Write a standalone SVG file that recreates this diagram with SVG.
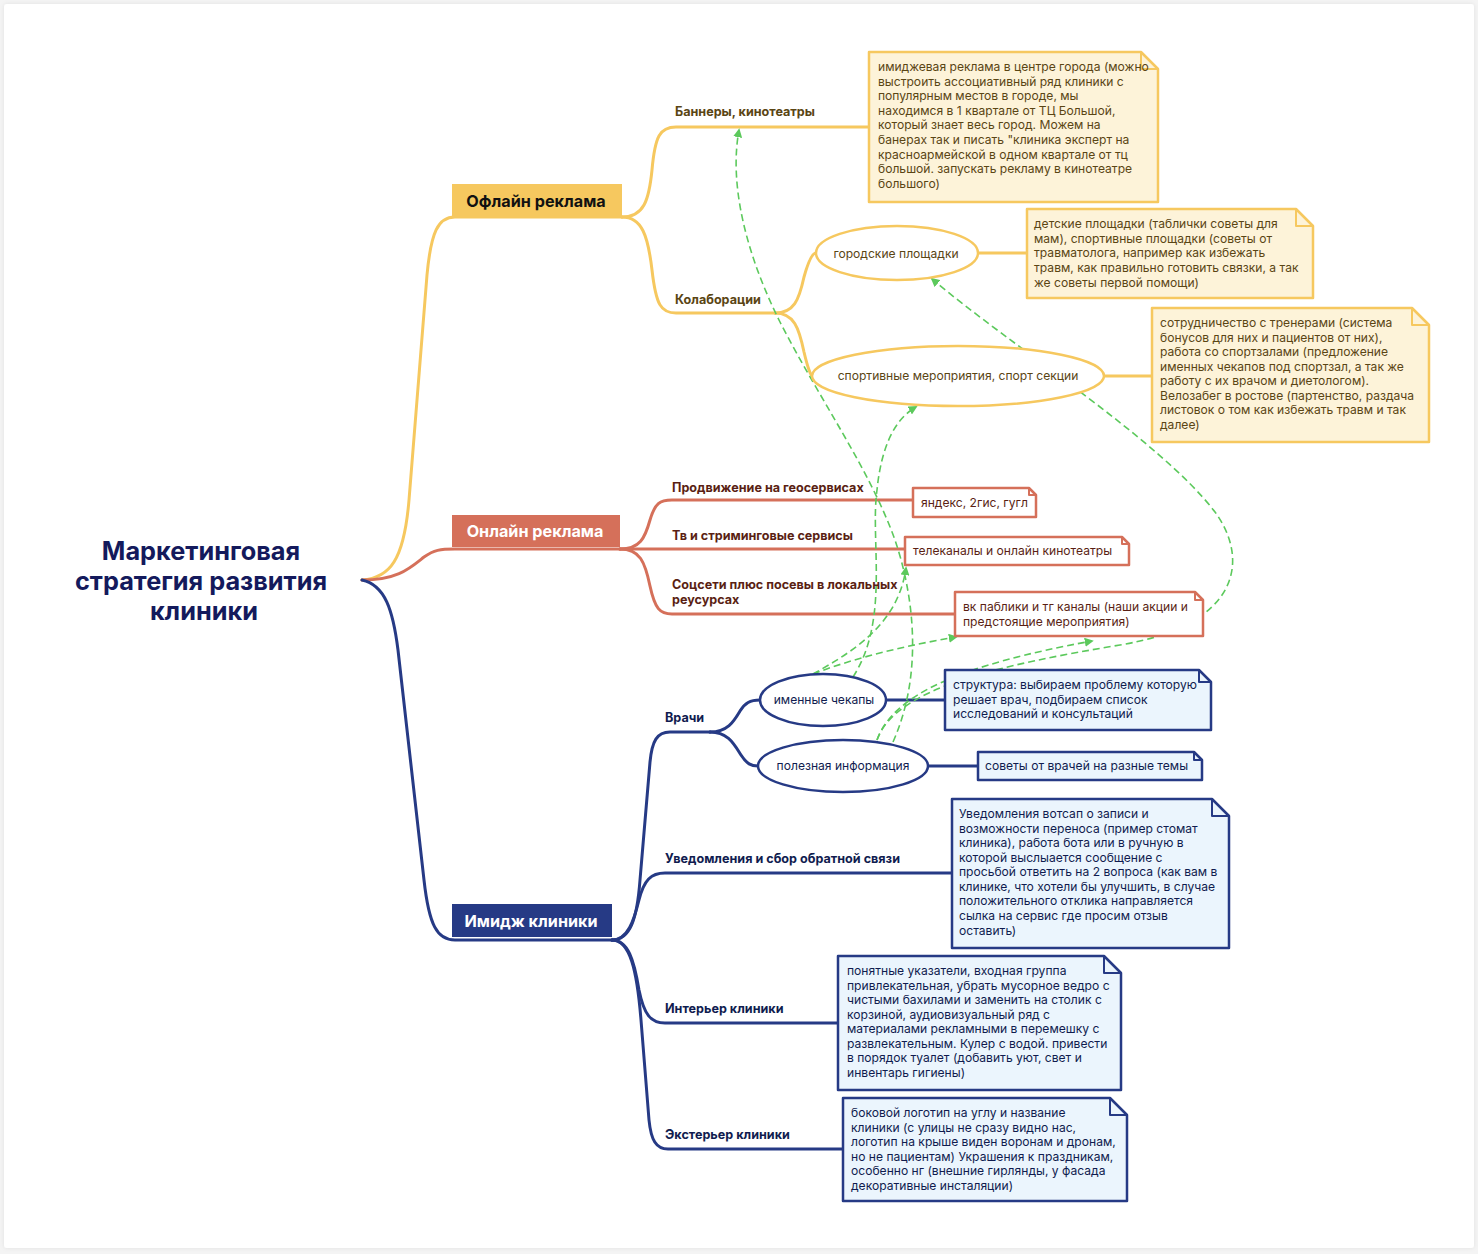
<svg xmlns="http://www.w3.org/2000/svg" width="1478" height="1254" viewBox="0 0 1478 1254">
<defs>
<style>
text{font-family:Inter,"Noto Sans","Liberation Sans",sans-serif}
.title{font-size:25.3px;font-weight:700;fill:#141a5c;text-anchor:middle}
.br{font-size:16.2px;font-weight:700;text-anchor:middle}
.lbl{font-size:12.6px;font-weight:700}
.nt{font-size:12.1px}
.ye{stroke:#f6c85f;fill:none;stroke-width:3;stroke-linecap:round}
.re{stroke:#d5705a;fill:none;stroke-width:3;stroke-linecap:round}
.bl{stroke:#263a85;fill:none;stroke-width:3;stroke-linecap:round}
.yt{fill:#5a4514}
.rt{fill:#5a1f14}
.bt{fill:#101c4f}
.ynote{fill:#fdf3d9;stroke:#f6c85f;stroke-width:2.5;stroke-linejoin:round}
.rnote{fill:#ffffff;stroke:#d5705a;stroke-width:2.5;stroke-linejoin:round}
.bnote{fill:#ebf5fd;stroke:#263a85;stroke-width:2.5;stroke-linejoin:round}
.fold{fill:none;stroke-width:2;stroke-linejoin:round}
.ell{fill:#ffffff;stroke-width:2.5}
.dash{stroke:#5cc95c;stroke-width:1.6;fill:none;stroke-dasharray:7 4;marker-end:url(#ah)}
</style>
<marker id="ah" viewBox="0 0 10 10" refX="8" refY="5" markerWidth="9" markerHeight="9" markerUnits="userSpaceOnUse" orient="auto">
<path d="M0,0 L10,5 L0,10 Z" fill="#5cc95c"/>
</marker>
<filter id="sh" x="-5%" y="-5%" width="110%" height="110%">
<feDropShadow dx="0" dy="0" stdDeviation="2" flood-color="#000" flood-opacity="0.08"/>
</filter>
</defs>
<rect x="0" y="0" width="1478" height="1254" fill="#f4f4f4"/>
<rect x="4" y="4" width="1470" height="1244" rx="3" fill="#ffffff" filter="url(#sh)"/>

<g id="connectors">
<path class="ye" d="M362,580 C390,578 404,560 409,500 L427,275 C431,232 438,217 455,217 L622,217"/>
<path class="re" d="M362,580 C398,580 410,568 424,557 C434,550 440,549 455,549 L620,549"/>
<path class="bl" d="M362,580 C385,585 393,610 398,650 L424,880 C429,925 437,940 455,940 L612,940"/>
<path class="ye" d="M622,217 C644,217 649,200 652,170 C655,136 660,127 676,127 L870,127"/>
<path class="ye" d="M622,217 C642,217 648,236 652,270 C656,305 661,313 676,313 L775,313"/>
<path class="ye" d="M775,313 C794,313 799,300 804,277 C809,259 813,253 816,253"/>
<path class="ye" d="M775,313 C794,313 799,328 804,352 C808,369 811,376 812,376"/>
<path class="ye" d="M979,253 L1027,253"/>
<path class="ye" d="M1104,376 L1152,376"/>
<path class="re" d="M620,549 C640,549 645,538 650,520 C655,503 660,500 672,500 L914,500"/>
<path class="re" d="M620,549 L906,549"/>
<path class="re" d="M620,549 C640,549 645,562 650,586 C655,609 660,614 672,614 L955,614"/>
<path class="bl" d="M612,940 C630,940 637,920 640,880 L650,762 C652,741 657,732 670,732 L710,732"/>
<path class="bl" d="M710,732 C728,732 734,721 740,711 C745,703 750,700 760,700"/>
<path class="bl" d="M710,732 C728,732 734,744 741,755 C747,764 751,766 758,766"/>
<path class="bl" d="M886,700 L945,700"/>
<path class="bl" d="M928,766 L978,766"/>
<path class="bl" d="M612,940 C628,940 634,920 639,900 C644,880 651,873 665,873 L952,873"/>
<path class="bl" d="M612,940 C628,940 634,960 639,990 C644,1015 651,1023 665,1023 L838,1023"/>
<path class="bl" d="M612,940 C630,940 637,970 641,1020 L649,1120 C651,1140 656,1149 668,1149 L843,1149"/>
<path class="dash" d="M893,742 C925,670 912,590 895,540 C870,470 820,400 780,322 C750,262 728,190 739,130"/>
<path class="dash" d="M853,677 C890,620 870,540 877,490 C881,450 893,420 916,407"/>
<path class="dash" d="M813,674 C852,652 898,625 906,568"/>
<path class="dash" d="M813,674 C860,656 910,645 956,637"/>
<path class="dash" d="M877,740 C893,695 960,665 1092,641"/>
<path class="dash" d="M877,740 C895,688 1000,665 1120,645 C1240,625 1250,560 1215,512 C1160,440 1010,345 932,279"/>
</g>

<g id="root">
<text class="title" x="201" y="560">Маркетинговая</text>
<text class="title" x="201" y="590">стратегия развития</text>
<text class="title" x="204" y="620">клиники</text>
</g>

<g id="offline">
<rect x="452" y="184" width="170" height="33" fill="#f6c85f"/>
<text class="br" x="536" y="207" fill="#111">Офлайн реклама</text>
</g>
<g id="online">
<rect x="452" y="515" width="168" height="32" fill="#d5705a"/>
<text class="br" x="535" y="537" fill="#ffffff">Онлайн реклама</text>
</g>
<g id="image">
<rect x="452" y="904" width="160" height="33" fill="#263a85"/>
<text class="br" x="531" y="927" fill="#ffffff">Имидж клиники</text>
</g>

<g id="banners">
<text class="lbl yt" x="675" y="116">Баннеры, кинотеатры</text>
</g>
<g id="banners-note">
<path class="ynote" d="M869,52 L1141,52 L1158,69 L1158,202 L869,202 Z"/>
<path class="fold" stroke="#f6c85f" d="M1141,52 L1141,69 L1158,69"/>
<text class="nt yt" x="878" y="71">имиджевая реклама в центре города (можно</text>
<text class="nt yt" x="878" y="86">выстроить ассоциативный ряд клиники с</text>
<text class="nt yt" x="878" y="100">популярным местов в городе, мы</text>
<text class="nt yt" x="878" y="115">находимся в 1 квартале от ТЦ Большой,</text>
<text class="nt yt" x="878" y="129">который знает весь город. Можем на</text>
<text class="nt yt" x="878" y="144">банерах так и писать "клиника эксперт на</text>
<text class="nt yt" x="878" y="159">красноармейской в одном квартале от тц</text>
<text class="nt yt" x="878" y="173">большой. запускать рекламу в кинотеатре</text>
<text class="nt yt" x="878" y="188">большого)</text>
</g>
<g id="collab">
<text class="lbl yt" x="675" y="304">Колаборации</text>
</g>
<g id="city">
<ellipse class="ell" stroke="#f6c85f" cx="897" cy="253" rx="81" ry="27"/>
<text class="nt yt" x="896" y="258" text-anchor="middle">городские площадки</text>
</g>
<g id="city-note">
<path class="ynote" d="M1027,209 L1296,209 L1313,226 L1313,298 L1027,298 Z"/>
<path class="fold" stroke="#f6c85f" d="M1296,209 L1296,226 L1313,226"/>
<text class="nt yt" x="1034" y="228">детские площадки (таблички советы для</text>
<text class="nt yt" x="1034" y="243">мам), спортивные площадки (советы от</text>
<text class="nt yt" x="1034" y="257">травматолога, например как избежать</text>
<text class="nt yt" x="1034" y="272">травм, как правильно готовить связки, а так</text>
<text class="nt yt" x="1034" y="287">же советы первой помощи)</text>
</g>
<g id="sport">
<ellipse class="ell" stroke="#f6c85f" cx="958" cy="376" rx="146" ry="30"/>
<text class="nt yt" x="958" y="380" text-anchor="middle">спортивные мероприятия, спорт секции</text>
</g>
<g id="sport-note">
<path class="ynote" d="M1152,308 L1412,308 L1429,325 L1429,442 L1152,442 Z"/>
<path class="fold" stroke="#f6c85f" d="M1412,308 L1412,325 L1429,325"/>
<text class="nt yt" x="1160" y="327">сотрудничество с тренерами (система</text>
<text class="nt yt" x="1160" y="342">бонусов для них и пациентов от них),</text>
<text class="nt yt" x="1160" y="356">работа со спортзалами (предложение</text>
<text class="nt yt" x="1160" y="371">именных чекапов под спортзал, а так же</text>
<text class="nt yt" x="1160" y="385">работу с их врачом и диетологом).</text>
<text class="nt yt" x="1160" y="400">Велозабег в ростове (партенство, раздача</text>
<text class="nt yt" x="1160" y="414">листовок о том как избежать травм и так</text>
<text class="nt yt" x="1160" y="429">далее)</text>
</g>

<g id="geo">
<text class="lbl rt" x="672" y="492">Продвижение на геосервисах</text>
</g>
<g id="geo-note">
<path class="rnote" d="M913,488 L1029,488 L1036,495 L1036,517 L913,517 Z"/>
<path class="fold" stroke="#d5705a" d="M1029,488 L1029,495 L1036,495"/>
<text class="nt rt" x="921" y="507">яндекс, 2гис, гугл</text>
</g>
<g id="tv">
<text class="lbl rt" x="672" y="540">Тв и стриминговые сервисы</text>
</g>
<g id="tv-note">
<path class="rnote" d="M905,537 L1122,537 L1129,544 L1129,565 L905,565 Z"/>
<path class="fold" stroke="#d5705a" d="M1122,537 L1122,544 L1129,544"/>
<text class="nt rt" x="913" y="555">телеканалы и онлайн кинотеатры</text>
</g>
<g id="social">
<text class="lbl rt" x="672" y="589">Соцсети плюс посевы в локальных</text>
<text class="lbl rt" x="672" y="604">реусурсах</text>
</g>
<g id="social-note">
<path class="rnote" d="M955,592 L1195,592 L1203,600 L1203,636 L955,636 Z"/>
<path class="fold" stroke="#d5705a" d="M1195,592 L1195,600 L1203,600"/>
<text class="nt rt" x="963" y="611">вк паблики и тг каналы (наши акции и</text>
<text class="nt rt" x="963" y="626">предстоящие мероприятия)</text>
</g>

<g id="doctors">
<text class="lbl bt" x="665" y="722">Врачи</text>
</g>
<g id="checkups">
<ellipse class="ell" stroke="#263a85" cx="823" cy="700" rx="63" ry="26"/>
<text class="nt bt" x="824" y="704" text-anchor="middle">именные чекапы</text>
</g>
<g id="checkups-note">
<path class="bnote" d="M945,670 L1199,670 L1211,682 L1211,730 L945,730 Z"/>
<path class="fold" stroke="#263a85" d="M1199,670 L1199,682 L1211,682"/>
<text class="nt bt" x="953" y="689">структура: выбираем проблему которую</text>
<text class="nt bt" x="953" y="704">решает врач, подбираем список</text>
<text class="nt bt" x="953" y="718">исследований и консультаций</text>
</g>
<g id="useful">
<ellipse class="ell" stroke="#263a85" cx="843" cy="766" rx="85" ry="26"/>
<text class="nt bt" x="843" y="770" text-anchor="middle">полезная информация</text>
</g>
<g id="useful-note">
<path class="bnote" d="M978,752 L1194,752 L1202,760 L1202,780 L978,780 Z"/>
<path class="fold" stroke="#263a85" d="M1194,752 L1194,760 L1202,760"/>
<text class="nt bt" x="985" y="770">советы от врачей на разные темы</text>
</g>
<g id="notify">
<text class="lbl bt" x="665" y="863">Уведомления и сбор обратной связи</text>
</g>
<g id="notify-note">
<path class="bnote" d="M952,799 L1212,799 L1229,816 L1229,948 L952,948 Z"/>
<path class="fold" stroke="#263a85" d="M1212,799 L1212,816 L1229,816"/>
<text class="nt bt" x="959" y="818">Уведомления вотсап о записи и</text>
<text class="nt bt" x="959" y="833">возможности переноса (пример стомат</text>
<text class="nt bt" x="959" y="847">клиника), работа бота или в ручную в</text>
<text class="nt bt" x="959" y="862">которой выслыается сообщение с</text>
<text class="nt bt" x="959" y="876">просьбой ответить на 2 вопроса (как вам в</text>
<text class="nt bt" x="959" y="891">клинике, что хотели бы улучшить, в случае</text>
<text class="nt bt" x="959" y="905">положительного отклика направляется</text>
<text class="nt bt" x="959" y="920">сылка на сервис где просим отзыв</text>
<text class="nt bt" x="959" y="935">оставить)</text>
</g>
<g id="interior">
<text class="lbl bt" x="665" y="1013">Интерьер клиники</text>
</g>
<g id="interior-note">
<path class="bnote" d="M838,956 L1104,956 L1121,973 L1121,1090 L838,1090 Z"/>
<path class="fold" stroke="#263a85" d="M1104,956 L1104,973 L1121,973"/>
<text class="nt bt" x="847" y="975">понятные указатели, входная группа</text>
<text class="nt bt" x="847" y="990">привлекательная, убрать мусорное ведро с</text>
<text class="nt bt" x="847" y="1004">чистыми бахилами и заменить на столик с</text>
<text class="nt bt" x="847" y="1019">корзиной, аудиовизуальный ряд с</text>
<text class="nt bt" x="847" y="1033">материалами рекламными в перемешку с</text>
<text class="nt bt" x="847" y="1048">развлекательным. Кулер с водой. привести</text>
<text class="nt bt" x="847" y="1062">в порядок туалет (добавить уют, свет и</text>
<text class="nt bt" x="847" y="1077">инвентарь гигиены)</text>
</g>
<g id="exterior">
<text class="lbl bt" x="665" y="1139">Экстерьер клиники</text>
</g>
<g id="exterior-note">
<path class="bnote" d="M843,1098 L1110,1098 L1127,1115 L1127,1201 L843,1201 Z"/>
<path class="fold" stroke="#263a85" d="M1110,1098 L1110,1115 L1127,1115"/>
<text class="nt bt" x="851" y="1117">боковой логотип на углу и название</text>
<text class="nt bt" x="851" y="1132">клиники (с улицы не сразу видно нас,</text>
<text class="nt bt" x="851" y="1146">логотип на крыше виден воронам и дронам,</text>
<text class="nt bt" x="851" y="1161">но не пациентам) Украшения к праздникам,</text>
<text class="nt bt" x="851" y="1175">особенно нг (внешние гирлянды, у фасада</text>
<text class="nt bt" x="851" y="1190">декоративные инсталяции)</text>
</g>
</svg>
